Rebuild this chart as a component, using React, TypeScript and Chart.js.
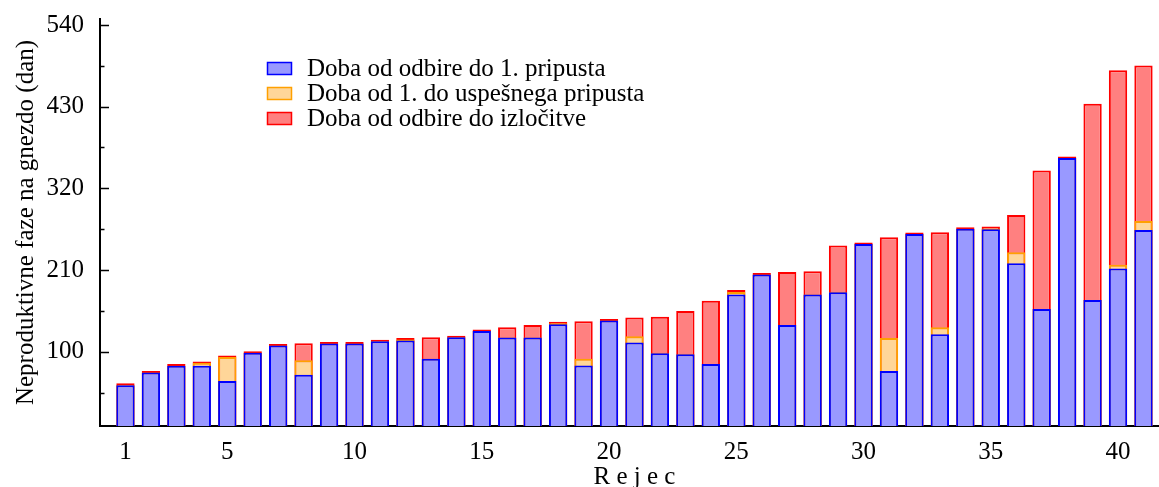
import React, { useEffect, useRef } from "react";
import { Chart, registerables } from "chart.js";

Chart.register(...registerables);

// ---- data ----
const rejec = [
  1, 2, 3, 4, 5, 6, 7, 8, 9, 10, 11, 12, 13, 14, 15, 16, 17, 18, 19, 20, 21,
  22, 23, 24, 25, 26, 27, 28, 29, 30, 31, 32, 33, 34, 35, 36, 37, 38, 39, 40, 41,
];

// Doba od odbire do 1. pripusta
const toFirstService = [
  55, 72, 81, 81, 60.5, 98.5, 108.5, 69, 111, 111, 114, 115, 90.5, 119.5, 128,
  119, 119, 137, 81.5, 142, 112.5, 98, 96.5, 83.5, 177, 204, 136, 177, 180, 245,
  74, 258.5, 123.5, 265.5, 265, 219, 157.5, 361, 169.5, 212, 264,
];

// Doba od 1. do uspešnega pripusta (top of the second segment)
const toSuccessfulService = [
  55, 72, 81, 85, 93, 98.5, 108.5, 88.5, 111, 111, 114, 116.5, 90.5, 119.5, 128,
  119, 119, 138.5, 90.5, 142, 121, 98, 96.5, 83.5, 180.5, 204, 136, 177, 180,
  245, 118.5, 258.5, 133, 265.5, 266, 234, 157.5, 361, 169.5, 217, 276,
];

// Doba od odbire do izločitve
const toCulling = [
  57.5, 74, 83.5, 87, 95, 100.5, 110.5, 111.5, 113, 113, 116, 118.5, 119.5, 121.5,
  130, 133, 136, 140.5, 141, 144, 146, 147, 155, 168.5, 183, 206, 207.5,
  208.5, 243, 247, 254, 260.5, 261, 267.5, 268.5, 284, 344, 363, 434, 479, 485.5,
];

const seriesLabels = [
  "Doba od odbire do 1. pripusta",
  "Doba od 1. do uspešnega pripusta",
  "Doba od odbire do izločitve",
];
const seriesFill = ["#9999ff", "#ffd699", "#ff8080"];
const seriesBorder = ["#0000ff", "#ffa000", "#ff0000"];

const yMajorTicks = [100, 210, 320, 430, 540];
const yMinorTicks = [45, 155, 265, 375, 485];
const xTicks = [1, 5, 10, 15, 20, 25, 30, 35, 40];
const xTitle = "R e j e c";
const yTitle = "Neproduktivne faze na gnezdo (dan)";

const FONT = '"Liberation Serif", "Times New Roman", Times, serif';

const decorPlugin = {
  id: "decor",
  afterDraw(chart: any) {
    const ctx = chart.ctx as CanvasRenderingContext2D;
    const ys = chart.scales.y;
    const xs = chart.scales.x;
    const left = chart.chartArea.left;
    ctx.save();
    // inward ticks on the y axis
    ctx.strokeStyle = "#000";
    ctx.lineWidth = 1.5;
    ctx.beginPath();
    for (const v of yMajorTicks) {
      const p = Math.round(ys.getPixelForValue(v)) + 0.5;
      ctx.moveTo(left, p);
      ctx.lineTo(left + 9, p);
    }
    for (const v of yMinorTicks) {
      const p = Math.round(ys.getPixelForValue(v)) + 0.5;
      ctx.moveTo(left, p);
      ctx.lineTo(left + 4.5, p);
    }
    ctx.stroke();

    // x axis title, centred on the full (cropped) x range 0..42
    ctx.font = `25px ${FONT}`;
    ctx.fillStyle = "#000";
    ctx.textAlign = "center";
    ctx.textBaseline = "alphabetic";
    ctx.fillText(xTitle, xs.getPixelForValue(21), 483.5);

    // legend inside the plot
    const boxX = 267.5;
    const textX = 307;
    ctx.textAlign = "left";
    for (let i = 0; i < seriesLabels.length; i++) {
      const top = 62.5 + i * 25;
      ctx.fillStyle = seriesFill[i];
      ctx.fillRect(boxX, top, 24, 12);
      ctx.strokeStyle = seriesBorder[i];
      ctx.lineWidth = 1.5;
      ctx.strokeRect(boxX, top, 24, 12);
      ctx.fillStyle = "#000";
      ctx.fillText(seriesLabels[i], textX, 76 + i * 25);
    }
    ctx.restore();
  },
};

export default function App() {
  const canvasRef = useRef<HTMLCanvasElement | null>(null);

  useEffect(() => {
    if (!canvasRef.current) return;
    const mk = (i: number, data: number[]) => ({
      label: seriesLabels[i],
      data,
      backgroundColor: seriesFill[i],
      borderColor: seriesBorder[i],
      borderWidth: 2,
      grouped: false,
      barPercentage: 0.72,
      categoryPercentage: 1,
      order: i + 1,
    });
    const chart = new Chart(canvasRef.current, {
      type: "bar",
      data: {
        labels: rejec,
        datasets: [
          mk(0, toFirstService),
          mk(1, toSuccessfulService),
          mk(2, toCulling),
        ],
      },
      options: {
        responsive: false,
        animation: false,
        devicePixelRatio: 1,
        layout: { padding: { top: 19, right: 0, bottom: 0, left: 0 } },
        font: { family: FONT, size: 25 },
        plugins: {
          legend: { display: false },
          tooltip: { enabled: false },
          title: { display: false },
        },
        scales: {
          x: {
            type: "linear",
            min: 0,
            max: 41.61,
            offset: false,
            grid: { display: false, drawTicks: false },
            border: { display: true, color: "#000", width: 2 },
            ticks: {
              color: "#000",
              font: { family: FONT, size: 25 },
              padding: 11,
              autoSkip: false,
              maxRotation: 0,
            },
            afterBuildTicks: (s: any) => {
              s.ticks = xTicks.map((v) => ({ value: v }));
            },
            afterFit: (s: any) => {
              s.height = 61;
              s.paddingLeft = 0;
              s.paddingRight = 0;
            },
          },
          y: {
            type: "linear",
            min: 0,
            max: 548,
            grid: { display: false, drawTicks: false },
            border: { display: true, color: "#000", width: 2 },
            ticks: {
              color: "#000",
              font: { family: FONT, size: 25 },
              padding: 16,
            },
            afterBuildTicks: (s: any) => {
              s.ticks = yMajorTicks.map((v) => ({ value: v }));
            },
            afterFit: (s: any) => {
              s.width = 100;
              s.paddingTop = 0;
              s.paddingBottom = 0;
            },
            title: {
              display: true,
              text: yTitle,
              color: "#000",
              font: { family: FONT, size: 25 },
              padding: { top: 11, bottom: 0 },
            },
          },
        },
      } as any,
      plugins: [decorPlugin],
    });
    return () => chart.destroy();
  }, []);

  return (
    <div style={{ position: "absolute", left: 0, top: 0, width: 1159, height: 487, background: "#fff" }}>
      <canvas ref={canvasRef} width={1159} height={487} style={{ display: "block" }} />
    </div>
  );
}
